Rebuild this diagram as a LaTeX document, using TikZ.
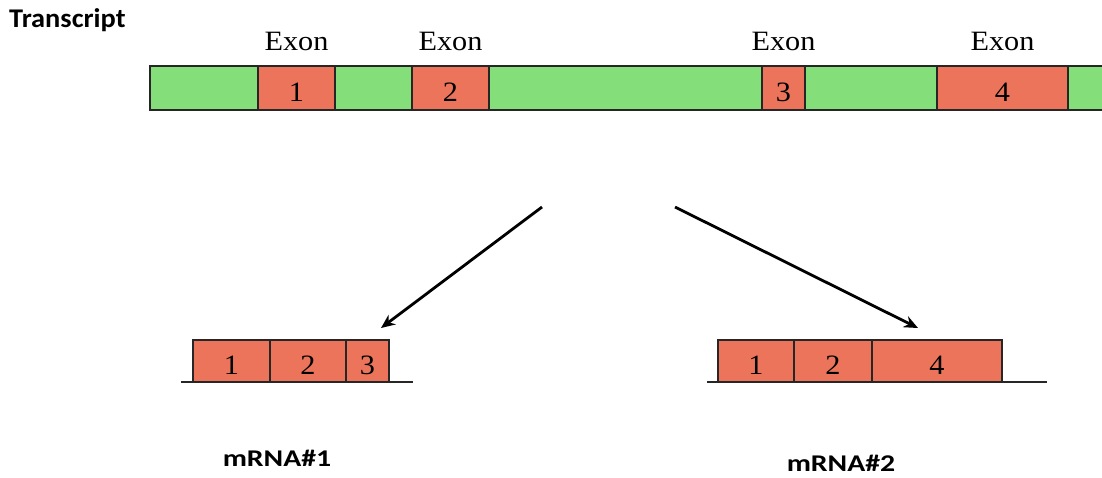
\documentclass[tikz,border=0pt]{standalone}
\usepackage{fontspec}
\setmainfont[FakeStretch=1.08]{Liberation Serif}
\newfontfamily\titlefont[FakeStretch=1.05]{Carlito}
\newfontfamily\namefont[FakeStretch=1.24]{Carlito}
\usetikzlibrary{arrows.meta,positioning}

\definecolor{introngreen}{RGB}{132,222,122}
\definecolor{exonred}{RGB}{236,116,90}

\begin{document}
\begin{tikzpicture}[%
    x=1pt, y=-1pt,              % Pixel like units, top-down
    >={Stealth[length=14pt,width=12pt]}, % Arrow tips
    ]
% -------------------------------------------------
% Box and text styles
\tikzset{
  base/.style={draw=black!85, line width=1.2pt, inner sep=0pt, outer sep=0pt,
    minimum height=44pt, text height=27pt, text depth=0pt,
    font=\fontsize{28}{28}\selectfont},
  intron/.style={base, fill=introngreen},
  exon/.style={base, fill=exonred},
  piece/.style={exon, minimum height=42pt},
  exonlabel/.style={inner sep=0pt, font=\fontsize{28}{28}\selectfont},
  title/.style={inner sep=0pt, font=\titlefont\bfseries\fontsize{27}{27}\selectfont},
  rnalabel/.style={inner sep=0pt, anchor=base, font=\namefont\bfseries\fontsize{24}{24}\selectfont},
  ground/.style={draw=black!85, line width=1.2pt},
  to/.style={->, draw, line width=2.8pt, black},
}
\useasboundingbox (0,0) rectangle (1102,477);
% -------------------------------------------------
% Transcript: introns and exons side by side
\node [title, anchor=base west] (t) at (9,27) {Transcript};
\node [intron, minimum width=108pt, anchor=north west] (g1) at (150,66) {};
\node [exon, minimum width=77pt, right=0pt of g1] (e1) {1};
\node [intron, minimum width=77pt, right=0pt of e1] (g2) {};
\node [exon, minimum width=77pt, right=0pt of g2] (e2) {2};
\node [intron, minimum width=273pt, right=0pt of e2] (g3) {};
\node [exon, minimum width=43pt, right=0pt of g3] (e3) {3};
\node [intron, minimum width=132pt, right=0pt of e3] (g4) {};
\node [exon, minimum width=131pt, right=0pt of g4] (e4) {4};
\node [intron, minimum width=45pt, right=0pt of e4] (g5) {};

\foreach \e in {e1,e2,e3,e4}
  \node [exonlabel, above=15pt of \e] (l\e) {Exon};

% mRNA#1
\node [piece, minimum width=77pt, anchor=north west] (a1) at (193,340) {1};
\node [piece, minimum width=76pt, right=0pt of a1] (a2) {2};
\node [piece, minimum width=43pt, right=0pt of a2] (a3) {3};
\coordinate (a0) at (181,382);
\coordinate (a4) at (413,382);
\node [rnalabel] (m1) at (277,466) {mRNA\#1};

% mRNA#2
\node [piece, minimum width=76pt, anchor=north west] (b1) at (718,340) {1};
\node [piece, minimum width=78pt, right=0pt of b1] (b2) {2};
\node [piece, minimum width=130pt, right=0pt of b2] (b4) {4};
\coordinate (b0) at (707,382);
\coordinate (b5) at (1047,382);
\node [rnalabel] (m2) at (841,471) {mRNA\#2};

% Split points and arrow tips
\coordinate (s1) at (542,207);
\coordinate (s2) at (675,207);
\coordinate (h1) at (381,328);
\coordinate (h2) at (918,328);

\draw[ground] (a0) -- (a4);		%baseline,mRNA#1
\draw[ground] (b0) -- (b5);		%baseline,mRNA#2
\draw[to] (s1) -- (h1);		%Transcript,mRNA#1
\draw[to] (s2) -- (h2);		%Transcript,mRNA#2

% -------------------------------------------------
\end{tikzpicture}
\end{document}
